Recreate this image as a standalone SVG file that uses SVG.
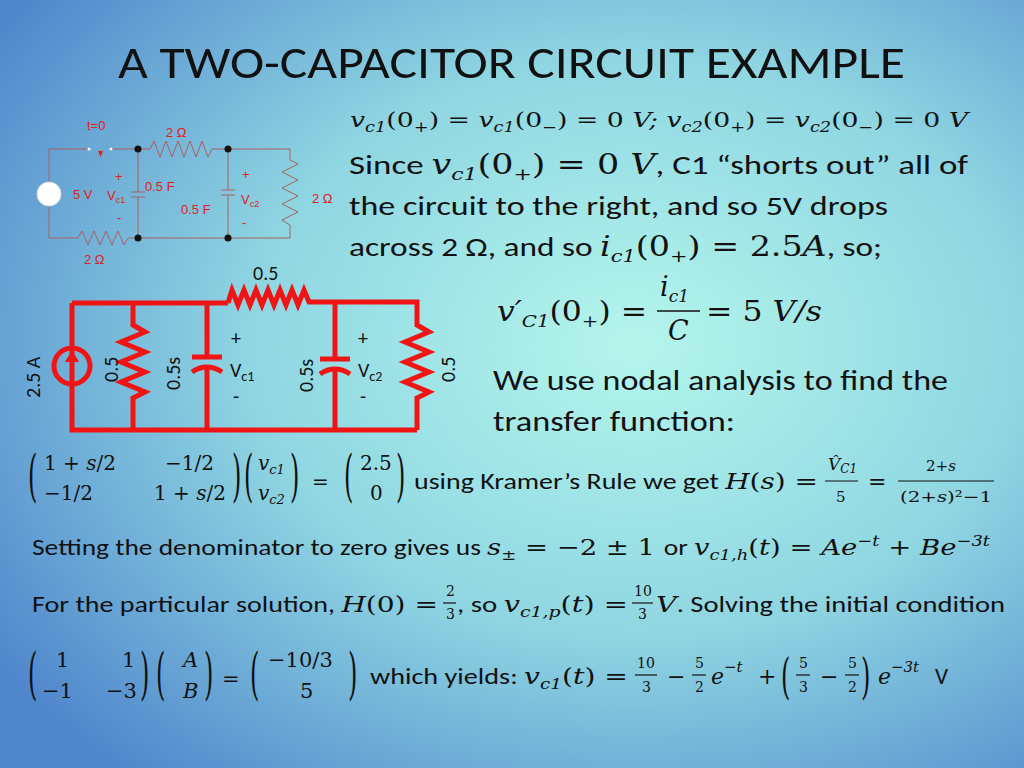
<svg xmlns="http://www.w3.org/2000/svg" width="1024" height="768" viewBox="0 0 1024 768">
<defs>
<radialGradient id="bg" cx="0.62" cy="0.45" r="0.75">
<stop offset="0" stop-color="#b4f6ec"/><stop offset="0.5" stop-color="#8fd6e2"/><stop offset="1" stop-color="#4f86cc"/>
</radialGradient>
<style>
.t{font-family:Calibri,Carlito,"Liberation Sans",sans-serif;fill:#111}
.m{font-family:"DejaVu Serif","Liberation Serif",serif;font-style:italic;fill:#111}
.n{font-style:normal}
.r{font-family:"Liberation Sans",Arial,sans-serif;fill:#e02020}
.w{stroke:#a86060;stroke-width:1;fill:none}
.big{stroke:#f01414;stroke-width:5;fill:none;stroke-linejoin:miter}
.fl{stroke:#111;stroke-width:1.2}
</style>
</defs>
<rect width="1024" height="768" fill="url(#bg)"/>
<text class="t" x="118" y="78" font-size="46" textLength="787" lengthAdjust="spacingAndGlyphs">A TWO-CAPACITOR CIRCUIT EXAMPLE</text>

<g id="small-circuit">
<path class="w" d="M89,149 H49 V238 H78 L82,231 88,245 94,231 100,245 106,231 112,245 118,231 124,245 128,238 H290 V225 L282,220 298,212 282,204 298,196 282,188 298,180 282,172 298,164 290,160 V149 H212 L208,157 202,141 196,157 190,141 184,157 178,141 172,157 166,141 160,157 154,141 150,149 H112 M138,149 V192 M131,192 H145 M131,197 H145 M138,197 V238 M228,149 V190 M221,190 H235 M221,195 H235 M228,195 V238"/>
<circle cx="49" cy="194" r="12" fill="#fff" stroke="#ddd" stroke-width="1"/>
<circle cx="89" cy="149" r="1.5" fill="#fff"/><circle cx="111" cy="149" r="1.5" fill="#fff"/>
<path d="M98,151 l5,0 -2.5,6z" fill="#e02020"/>
<g fill="#111"><circle cx="138" cy="149" r="3.5"/><circle cx="228" cy="149" r="3.5"/><circle cx="138" cy="238" r="3.5"/><circle cx="228" cy="238" r="3.5"/></g>
<g class="r" font-size="13">
<text x="87" y="130">t=0</text><text x="166" y="137">2 Ω</text><text x="73" y="199">5 V</text>
<text x="115" y="181">+</text><text x="107" y="200">V<tspan font-size="9" dy="3">c1</tspan></text><text x="117" y="222">-</text>
<text x="145" y="191">0.5 F</text><text x="181" y="214">0.5 F</text>
<text x="242" y="179">+</text><text x="241" y="204">V<tspan font-size="9" dy="3">c2</tspan></text><text x="242" y="227">-</text>
<text x="312" y="203">2 Ω</text><text x="84" y="264">2 Ω</text>
</g>
</g>

<g id="big-circuit">
<path class="big" d="M72,303 H228 M72,303 V430 H417 M133,303 V325 L145,332 121,342 145,352 121,362 145,372 121,382 145,392 133,398 V430 M207,303 V357 M192,357 H222 M192,372 Q207,362 222,372 M207,366 V430 M228,303 L232,290 238,305 244,290 250,305 256,290 262,305 268,290 274,305 280,290 286,305 292,290 298,305 304,290 309,302 H417 V325 L429,332 405,342 429,352 405,362 429,372 405,382 429,392 417,398 V430 M335,303 V359 M320,359 H350 M320,374 Q335,364 350,374 M335,368 V430"/>
<circle cx="72" cy="366" r="18" fill="none" stroke="#f01414" stroke-width="5"/>
<path d="M72,383 V358" stroke="#f01414" stroke-width="4"/><path d="M65,362 L72,350 79,362z" fill="#f01414"/>
<g class="t" font-size="20">
<text x="253" y="280">0.5</text>
<text x="231" y="345">+</text><text x="230" y="377">V<tspan font-size="14" dy="4">c1</tspan></text><text x="233" y="403">-</text>
<text x="358" y="345">+</text><text x="358" y="377">V<tspan font-size="14" dy="4">c2</tspan></text><text x="360" y="403">-</text>
<text transform="translate(40,398) rotate(-90)">2.5 A</text>
<text transform="translate(118,382) rotate(-90)">0.5</text>
<text transform="translate(180,390) rotate(-90)">0.5s</text>
<text transform="translate(313,392) rotate(-90)">0.5s</text>
<text transform="translate(455,382) rotate(-90)">0.5</text>
</g>
</g>

<g id="text">
<text class="m" x="350" y="127" font-size="21" textLength="618" lengthAdjust="spacingAndGlyphs">v<tspan font-size="14" dy="5">c1</tspan><tspan class="n" dy="-5">(0</tspan><tspan font-size="14" dy="5">+</tspan><tspan class="n" dy="-5">) = </tspan>v<tspan font-size="14" dy="5">c1</tspan><tspan class="n" dy="-5">(0</tspan><tspan font-size="14" dy="5">−</tspan><tspan class="n" dy="-5">) = 0 </tspan>V; v<tspan font-size="14" dy="5">c2</tspan><tspan class="n" dy="-5">(0</tspan><tspan font-size="14" dy="5">+</tspan><tspan class="n" dy="-5">) = </tspan>v<tspan font-size="14" dy="5">c2</tspan><tspan class="n" dy="-5">(0</tspan><tspan font-size="14" dy="5">−</tspan><tspan class="n" dy="-5">) = 0 </tspan>V</text>
<text class="t" x="349" y="174" font-size="27" textLength="619" lengthAdjust="spacingAndGlyphs">Since <tspan class="m">v</tspan><tspan class="m" font-size="17" dy="6">c1</tspan><tspan class="m n" dy="-6">(0</tspan><tspan class="m" font-size="17" dy="6">+</tspan><tspan class="m n" dy="-6">) = 0 </tspan><tspan class="m">V</tspan>, C1 “shorts out” all of</text>
<text class="t" x="349" y="215" font-size="27" textLength="539" lengthAdjust="spacingAndGlyphs">the circuit to the right, and so 5V drops</text>
<text class="t" x="349" y="256" font-size="27" textLength="533" lengthAdjust="spacingAndGlyphs">across 2 Ω, and so <tspan class="m">i</tspan><tspan class="m" font-size="17" dy="6">c1</tspan><tspan class="m n" dy="-6">(0</tspan><tspan class="m" font-size="17" dy="6">+</tspan><tspan class="m n" dy="-6">) = 2.5</tspan><tspan class="m">A</tspan>, so;</text>
<text class="m" x="497" y="321" font-size="27" textLength="150" lengthAdjust="spacingAndGlyphs">v′<tspan font-size="17" dy="6">C1</tspan><tspan class="n" dy="-6">(0</tspan><tspan font-size="17" dy="6">+</tspan><tspan class="n" dy="-6">) =</tspan></text>
<text class="m" x="660" y="296" font-size="27">i<tspan font-size="17" dy="6">c1</tspan></text>
<line x1="657" y1="311" x2="700" y2="311" stroke="#111" stroke-width="1.5"/>
<text class="m" x="668" y="340" font-size="27">C</text>
<text class="m" x="706" y="321" font-size="27" textLength="116" lengthAdjust="spacingAndGlyphs"><tspan class="n">= 5 </tspan>V/s</text>
<text class="t" x="493" y="390" font-size="28" textLength="455" lengthAdjust="spacingAndGlyphs">We use nodal analysis to find the</text>
<text class="t" x="493" y="431" font-size="28" textLength="242" lengthAdjust="spacingAndGlyphs">transfer function:</text>

<g class="m n" font-size="20">
<text transform="translate(28,495) scale(1,2.3)" font-size="24">(</text>
<text x="44" y="470">1 + <tspan class="m">s</tspan>/2</text><text x="165" y="470">−1/2</text>
<text x="44" y="500">−1/2</text><text x="154" y="500">1 + <tspan class="m">s</tspan>/2</text>
<text transform="translate(232,495) scale(1,2.3)" font-size="24">)</text>
<text transform="translate(244,495) scale(1,2.3)" font-size="24">(</text>
<text x="258" y="470" class="m">v<tspan font-size="13" dy="4">c1</tspan></text><text x="258" y="500" class="m">v<tspan font-size="13" dy="4">c2</tspan></text>
<text transform="translate(290,495) scale(1,2.3)" font-size="24">)</text>
<text x="312" y="489">=</text>
<text transform="translate(344,495) scale(1,2.3)" font-size="24">(</text>
<text x="360" y="470">2.5</text><text x="370" y="500">0</text>
<text transform="translate(396,495) scale(1,2.3)" font-size="24">)</text>
</g>
<text class="t" x="414" y="489" font-size="22" textLength="404" lengthAdjust="spacingAndGlyphs">using Kramer’s Rule we get <tspan class="m">H</tspan><tspan class="m n">(</tspan><tspan class="m">s</tspan><tspan class="m n">) =</tspan></text>
<text class="m" x="828" y="470" font-size="17">V̂<tspan font-size="12" dy="3">C1</tspan></text>
<line x1="825" y1="481" x2="858" y2="481" class="fl"/>
<text class="m n" x="836" y="502" font-size="15">5</text>
<text class="m n" x="868" y="489" font-size="22">=</text>
<text class="m n" x="926" y="471" font-size="15">2+<tspan class="m">s</tspan></text>
<line x1="898" y1="481" x2="994" y2="481" class="fl"/>
<text class="m n" x="900" y="502" font-size="15" textLength="92" lengthAdjust="spacingAndGlyphs">(2+<tspan class="m">s</tspan>)²−1</text>

<text class="t" x="32" y="555" font-size="23" textLength="958" lengthAdjust="spacingAndGlyphs">Setting the denominator to zero gives us <tspan class="m">s</tspan><tspan class="m" font-size="15" dy="5">±</tspan><tspan class="m n" dy="-5"> = −2 ± 1 </tspan>or <tspan class="m">v</tspan><tspan class="m" font-size="15" dy="5">c1,h</tspan><tspan class="m n" dy="-5">(</tspan><tspan class="m">t</tspan><tspan class="m n">) = </tspan><tspan class="m">Ae</tspan><tspan class="m" font-size="15" dy="-9">−t</tspan><tspan class="m n" dy="9"> + </tspan><tspan class="m">Be</tspan><tspan class="m" font-size="15" dy="-9">−3t</tspan></text>

<text class="t" x="32" y="612" font-size="23" textLength="406" lengthAdjust="spacingAndGlyphs">For the particular solution, <tspan class="m">H</tspan><tspan class="m n">(0) =</tspan></text>
<g class="m n" font-size="14">
<text x="446" y="596">2</text><line x1="443" y1="603" x2="456" y2="603" class="fl"/><text x="446" y="619">3</text>
<text x="634" y="596">10</text><line x1="632" y1="603" x2="653" y2="603" class="fl"/><text x="638" y="619">3</text>
</g>
<text class="t" x="457" y="612" font-size="23" textLength="171" lengthAdjust="spacingAndGlyphs">, so <tspan class="m">v</tspan><tspan class="m" font-size="15" dy="5">c1,p</tspan><tspan class="m n" dy="-5">(</tspan><tspan class="m">t</tspan><tspan class="m n">) =</tspan></text>
<text class="t" x="656" y="612" font-size="23" textLength="349" lengthAdjust="spacingAndGlyphs"><tspan class="m">V</tspan>. Solving the initial condition</text>

<g class="m n" font-size="21">
<text transform="translate(28,693) scale(1,2.3)" font-size="24">(</text>
<text x="56" y="667">1</text><text x="122" y="667">1</text>
<text x="42" y="698">−1</text><text x="106" y="698">−3</text>
<text transform="translate(140,693) scale(1,2.3)" font-size="24">)</text>
<text transform="translate(156,693) scale(1,2.3)" font-size="24">(</text>
<text x="183" y="667" class="m">A</text><text x="183" y="698" class="m">B</text>
<text transform="translate(204,693) scale(1,2.3)" font-size="24">)</text>
<text x="222" y="686">=</text>
<text transform="translate(250,693) scale(1,2.3)" font-size="24">(</text>
<text x="268" y="667">−10/3</text><text x="300" y="698">5</text>
<text transform="translate(348,693) scale(1,2.3)" font-size="24">)</text>
</g>
<text class="t" x="370" y="684" font-size="23" textLength="258" lengthAdjust="spacingAndGlyphs">which yields: <tspan class="m">v</tspan><tspan class="m" font-size="15" dy="5">c1</tspan><tspan class="m n" dy="-5">(</tspan><tspan class="m">t</tspan><tspan class="m n">) =</tspan></text>
<g class="m n" font-size="14">
<text x="637" y="668">10</text><line x1="635" y1="675" x2="657" y2="675" class="fl"/><text x="642" y="692">3</text>
<text x="667" y="684" font-size="22">−</text>
<text x="695" y="668">5</text><line x1="692" y1="675" x2="706" y2="675" class="fl"/><text x="695" y="692">2</text>
<text x="711" y="684" font-size="22" class="m">e</text><text x="724" y="672" font-size="15" class="m">−t</text>
<text x="758" y="684" font-size="22">+</text>
<text transform="translate(781,693) scale(1,2)" font-size="24">(</text>
<text x="799" y="668">5</text><line x1="796" y1="675" x2="810" y2="675" class="fl"/><text x="799" y="692">3</text>
<text x="820" y="684" font-size="22">−</text>
<text x="848" y="668">5</text><line x1="845" y1="675" x2="859" y2="675" class="fl"/><text x="848" y="692">2</text>
<text transform="translate(861,693) scale(1,2)" font-size="24">)</text>
<text x="878" y="684" font-size="22" class="m">e</text><text x="891" y="672" font-size="15" class="m">−3t</text>
</g>
<text class="t" x="935" y="684" font-size="23">V</text>
</g>
</svg>
